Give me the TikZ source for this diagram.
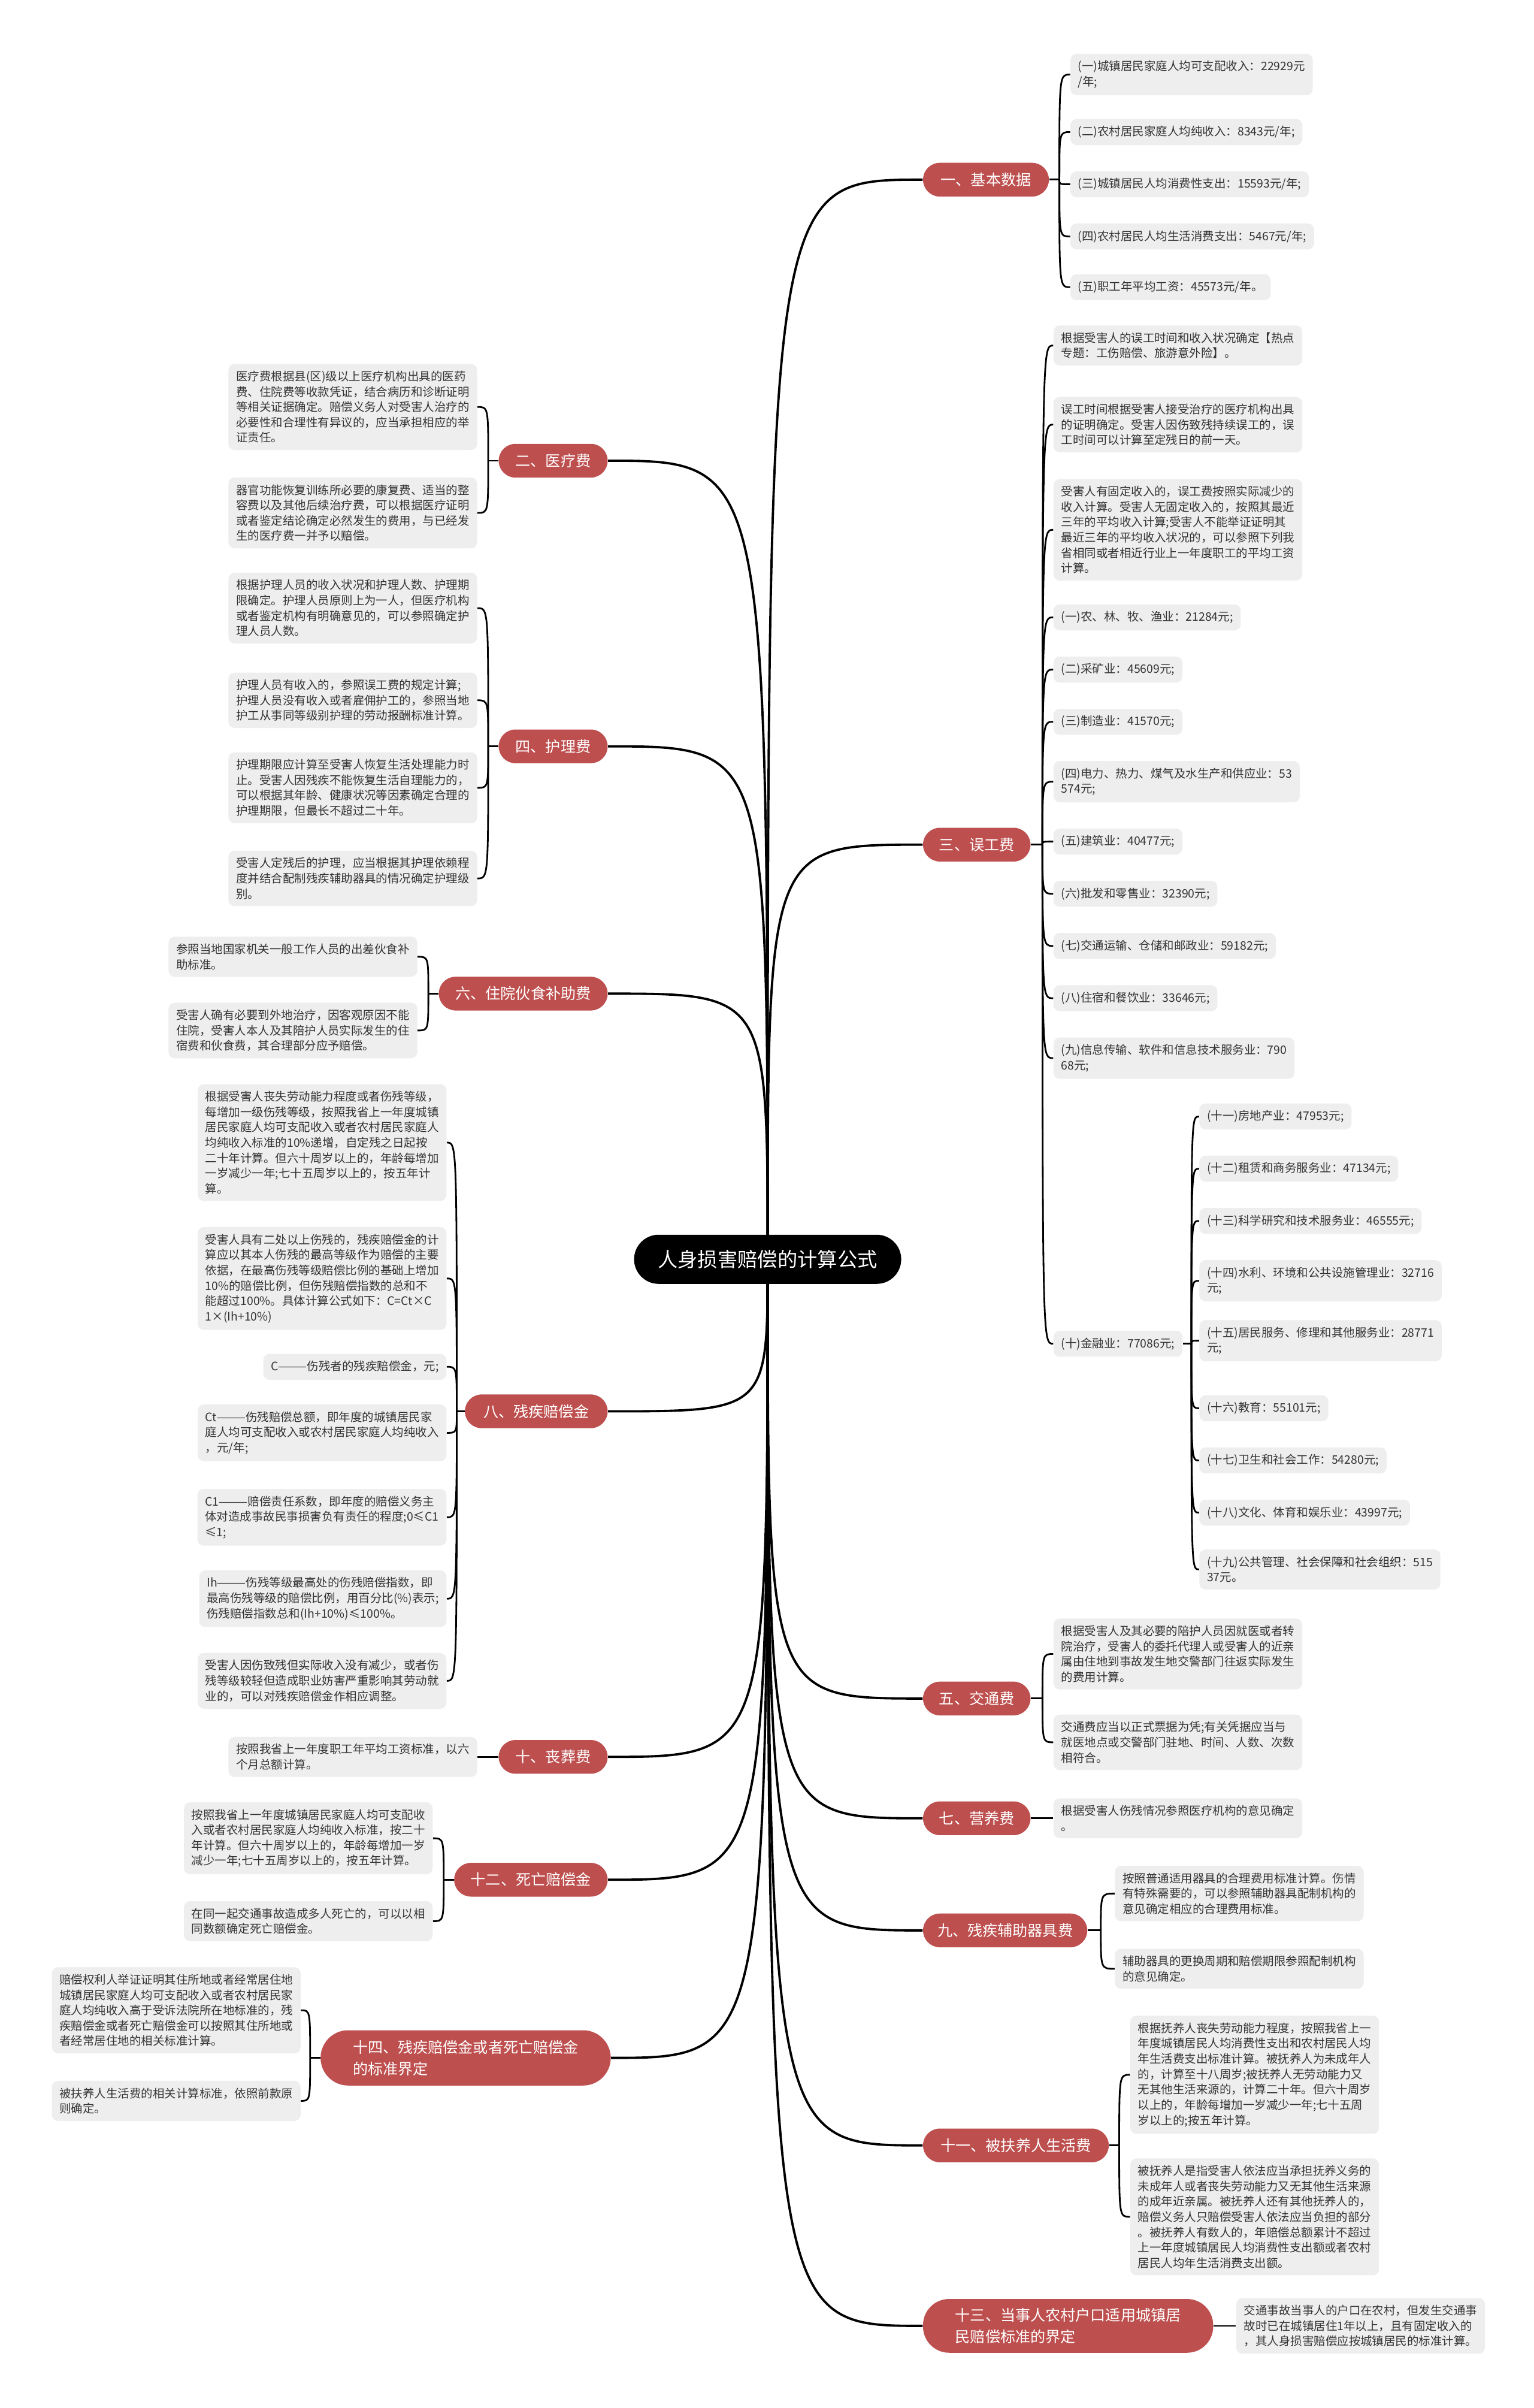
\documentclass[tikz,border=0pt]{standalone}
\usepackage{fontspec}
\setmainfont{Noto Sans CJK SC}
\usetikzlibrary{calc,backgrounds}
\definecolor{pillred}{RGB}{190,79,79}
\definecolor{boxgray}{RGB}{238,238,238}
\definecolor{txtgray}{RGB}{51,51,51}
\tikzset{
  box/.style={fill=boxgray, rounded corners=4pt, inner xsep=5pt, inner ysep=4.5pt, align=left, text=txtgray, font=\fontsize{7.6}{10}\selectfont},
  boxR/.style={box, anchor=west},
  boxL/.style={box, anchor=east},
  pill/.style={fill=pillred, text=white, rounded corners=11pt, minimum height=22pt, inner xsep=6pt, font=\fontsize{9.8}{14}\selectfont},
  pillR/.style={pill, anchor=west},
  pillL/.style={pill, anchor=east},
  link/.style={draw=black, line width=1.5pt},
  brk/.style={draw=black, line width=1.1pt},
}
\begin{document}
\begin{tikzpicture}[x=1pt,y=-1pt]
\useasboundingbox (0,0) rectangle (999,1568);
% root
\node[fill=black, text=white, rounded corners=16pt, minimum height=32pt, minimum width=174pt, font=\fontsize{13}{16}\selectfont] (root) at (500,820) {人身损害赔偿的计算公式};
% right branches
\node[pillR, minimum width=82pt] (b1) at (601,117) {一、基本数据};
\node[pillR, minimum width=70pt] (b3) at (601,550) {三、误工费};
\node[pillR, minimum width=70pt] (b5) at (601,1106) {五、交通费};
\node[pillR, minimum width=70pt] (b7) at (601,1184) {七、营养费};
\node[pillR, minimum width=107pt] (b9) at (601,1257) {九、残疾辅助器具费};
\node[pillR, minimum width=121pt] (b11) at (601,1397) {十一、被扶养人生活费};
\node[pillR, minimum width=189pt, minimum height=35pt, rounded corners=17pt, align=left, inner xsep=18pt] (b13) at (601,1514.5) {十三、当事人农村户口适用城镇居\\民赔偿标准的界定};
% left branches
\node[pillL, minimum width=71pt] (b2) at (396,300) {二、医疗费};
\node[pillL, minimum width=71pt] (b4) at (396,486) {四、护理费};
\node[pillL, minimum width=110pt] (b6) at (396,647) {六、住院伙食补助费};
\node[pillL, minimum width=93pt] (b8) at (396,919) {八、残疾赔偿金};
\node[pillL, minimum width=71pt] (b10) at (396,1144) {十、丧葬费};
\node[pillL, minimum width=100pt] (b12) at (396,1224) {十二、死亡赔偿金};
\node[pillL, minimum width=189pt, minimum height=36pt, rounded corners=18pt, align=left, inner xsep=18pt] (b14) at (398,1340) {十四、残疾赔偿金或者死亡赔偿金\\的标准界定};

% 一 children
\node[boxR] (c1a) at (697,48.5) {(一)城镇居民家庭人均可支配收入：22929元\\/年;};
\node[boxR] (c1b) at (697,86) {(二)农村居民家庭人均纯收入：8343元/年;};
\node[boxR] (c1c) at (697,120) {(三)城镇居民人均消费性支出：15593元/年;};
\node[boxR] (c1d) at (697,154) {(四)农村居民人均生活消费支出：5467元/年;};
\node[boxR] (c1e) at (697,187) {(五)职工年平均工资：45573元/年。};
% 三 children
\node[boxR] (c3a) at (686,225) {根据受害人的误工时间和收入状况确定【热点\\专题：工伤赔偿、旅游意外险】。};
\node[boxR] (c3b) at (686,276.5) {误工时间根据受害人接受治疗的医疗机构出具\\的证明确定。受害人因伤致残持续误工的，误\\工时间可以计算至定残日的前一天。};
\node[boxR] (c3c) at (686,345) {受害人有固定收入的，误工费按照实际减少的\\收入计算。受害人无固定收入的，按照其最近\\三年的平均收入计算;受害人不能举证证明其\\最近三年的平均收入状况的，可以参照下列我\\省相同或者相近行业上一年度职工的平均工资\\计算。};
\node[boxR] (c3d) at (686,402) {(一)农、林、牧、渔业：21284元;};
\node[boxR] (c3e) at (686,436) {(二)采矿业：45609元;};
\node[boxR] (c3f) at (686,470) {(三)制造业：41570元;};
\node[boxR] (c3g) at (686,509) {(四)电力、热力、煤气及水生产和供应业：53\\574元;};
\node[boxR] (c3h) at (686,548) {(五)建筑业：40477元;};
\node[boxR] (c3i) at (686,582) {(六)批发和零售业：32390元;};
\node[boxR] (c3j) at (686,616) {(七)交通运输、仓储和邮政业：59182元;};
\node[boxR] (c3k) at (686,650) {(八)住宿和餐饮业：33646元;};
\node[boxR] (c3l) at (686,689) {(九)信息传输、软件和信息技术服务业：790\\68元;};
\node[boxR] (f10) at (686,875) {(十)金融业：77086元;};
% 金融业 children
\node[boxR] (f11) at (781,727) {(十一)房地产业：47953元;};
\node[boxR] (f12) at (781,761) {(十二)租赁和商务服务业：47134元;};
\node[boxR] (f13) at (781,795) {(十三)科学研究和技术服务业：46555元;};
\node[boxR] (f14) at (781,834) {(十四)水利、环境和公共设施管理业：32716\\元;};
\node[boxR] (f15) at (781,873) {(十五)居民服务、修理和其他服务业：28771\\元;};
\node[boxR] (f16) at (781,917) {(十六)教育：55101元;};
\node[boxR] (f17) at (781,951) {(十七)卫生和社会工作：54280元;};
\node[boxR] (f18) at (781,985) {(十八)文化、体育和娱乐业：43997元;};
\node[boxR] (f19) at (781,1022) {(十九)公共管理、社会保障和社会组织：515\\37元。};
% 五 children
\node[boxR] (c5a) at (686,1077) {根据受害人及其必要的陪护人员因就医或者转\\院治疗，受害人的委托代理人或受害人的近亲\\属由住地到事故发生地交警部门往返实际发生\\的费用计算。};
\node[boxR] (c5b) at (686,1134.5) {交通费应当以正式票据为凭;有关凭据应当与\\就医地点或交警部门驻地、时间、人数、次数\\相符合。};
% 七 child
\node[boxR] (c7) at (686,1184) {根据受害人伤残情况参照医疗机构的意见确定\\。};
% 九 children
\node[boxR] (c9a) at (726,1233) {按照普通适用器具的合理费用标准计算。伤情\\有特殊需要的，可以参照辅助器具配制机构的\\意见确定相应的合理费用标准。};
\node[boxR] (c9b) at (726,1282) {辅助器具的更换周期和赔偿期限参照配制机构\\的意见确定。};
% 十一 children
\node[boxR] (c11a) at (736,1351) {根据抚养人丧失劳动能力程度，按照我省上一\\年度城镇居民人均消费性支出和农村居民人均\\年生活费支出标准计算。被抚养人为未成年人\\的，计算至十八周岁;被抚养人无劳动能力又\\无其他生活来源的，计算二十年。但六十周岁\\以上的，年龄每增加一岁减少一年;七十五周\\岁以上的;按五年计算。};
\node[boxR] (c11b) at (736,1443.5) {被抚养人是指受害人依法应当承担抚养义务的\\未成年人或者丧失劳动能力又无其他生活来源\\的成年近亲属。被抚养人还有其他抚养人的，\\赔偿义务人只赔偿受害人依法应当负担的部分\\。被抚养人有数人的，年赔偿总额累计不超过\\上一年度城镇居民人均消费性支出额或者农村\\居民人均年生活消费支出额。};
% 十三 child
\node[boxR] (c13) at (805,1514.5) {交通事故当事人的户口在农村，但发生交通事\\故时已在城镇居住1年以上，且有固定收入的\\，其人身损害赔偿应按城镇居民的标准计算。};

% 二 children
\node[boxL] (c2a) at (311,265) {医疗费根据县(区)级以上医疗机构出具的医药\\费、住院费等收款凭证，结合病历和诊断证明\\等相关证据确定。赔偿义务人对受害人治疗的\\必要性和合理性有异议的，应当承担相应的举\\证责任。};
\node[boxL] (c2b) at (311,334) {器官功能恢复训练所必要的康复费、适当的整\\容费以及其他后续治疗费，可以根据医疗证明\\或者鉴定结论确定必然发生的费用，与已经发\\生的医疗费一并予以赔偿。};
% 四 children
\node[boxL] (c4a) at (311,396) {根据护理人员的收入状况和护理人数、护理期\\限确定。护理人员原则上为一人，但医疗机构\\或者鉴定机构有明确意见的，可以参照确定护\\理人员人数。};
\node[boxL] (c4b) at (311,456) {护理人员有收入的，参照误工费的规定计算;\\护理人员没有收入或者雇佣护工的，参照当地\\护工从事同等级别护理的劳动报酬标准计算。};
\node[boxL] (c4c) at (311,513) {护理期限应计算至受害人恢复生活处理能力时\\止。受害人因残疾不能恢复生活自理能力的，\\可以根据其年龄、健康状况等因素确定合理的\\护理期限，但最长不超过二十年。};
\node[boxL] (c4d) at (311,572) {受害人定残后的护理，应当根据其护理依赖程\\度并结合配制残疾辅助器具的情况确定护理级\\别。};
% 六 children
\node[boxL] (c6a) at (272,623) {参照当地国家机关一般工作人员的出差伙食补\\助标准。};
\node[boxL] (c6b) at (272,671) {受害人确有必要到外地治疗，因客观原因不能\\住院，受害人本人及其陪护人员实际发生的住\\宿费和伙食费，其合理部分应予赔偿。};
% 八 children
\node[boxL] (c8a) at (291,744) {根据受害人丧失劳动能力程度或者伤残等级，\\每增加一级伤残等级，按照我省上一年度城镇\\居民家庭人均可支配收入或者农村居民家庭人\\均纯收入标准的10\%递增，自定残之日起按\\二十年计算。但六十周岁以上的，年龄每增加\\一岁减少一年;七十五周岁以上的，按五年计\\算。};
\node[boxL] (c8b) at (291,832.5) {受害人具有二处以上伤残的，残疾赔偿金的计\\算应以其本人伤残的最高等级作为赔偿的主要\\依据，在最高伤残等级赔偿比例的基础上增加\\10\%的赔偿比例，但伤残赔偿指数的总和不\\能超过100\%。具体计算公式如下：C=Ct×C\\1×(Ih+10\%)};
\node[boxL] (c8c) at (291,890) {C———伤残者的残疾赔偿金，元;};
\node[boxL] (c8d) at (291,933) {Ct———伤残赔偿总额，即年度的城镇居民家\\庭人均可支配收入或农村居民家庭人均纯收入\\，元/年;};
\node[boxL] (c8e) at (291,988) {C1———赔偿责任系数，即年度的赔偿义务主\\体对造成事故民事损害负有责任的程度;0≤C1\\≤1;};
\node[boxL] (c8f) at (291,1041) {Ih———伤残等级最高处的伤残赔偿指数，即\\最高伤残等级的赔偿比例，用百分比(\%)表示;\\伤残赔偿指数总和(Ih+10\%)≤100\%。};
\node[boxL] (c8g) at (291,1094.5) {受害人因伤致残但实际收入没有减少，或者伤\\残等级较轻但造成职业妨害严重影响其劳动就\\业的，可以对残疾赔偿金作相应调整。};
% 十 child
\node[boxL] (c10) at (311,1144) {按照我省上一年度职工年平均工资标准，以六\\个月总额计算。};
% 十二 children
\node[boxL] (c12a) at (282,1197) {按照我省上一年度城镇居民家庭人均可支配收\\入或者农村居民家庭人均纯收入标准，按二十\\年计算。但六十周岁以上的，年龄每增加一岁\\减少一年;七十五周岁以上的，按五年计算。};
\node[boxL] (c12b) at (282,1251) {在同一起交通事故造成多人死亡的，可以以相\\同数额确定死亡赔偿金。};
% 十四 children
\node[boxL] (c14a) at (196,1309) {赔偿权利人举证证明其住所地或者经常居住地\\城镇居民家庭人均可支配收入或者农村居民家\\庭人均纯收入高于受诉法院所在地标准的，残\\疾赔偿金或者死亡赔偿金可以按照其住所地或\\者经常居住地的相关标准计算。};
\node[boxL] (c14b) at (196,1368) {被扶养人生活费的相关计算标准，依照前款原\\则确定。};

% junctions
\coordinate (j1) at (690,117);
\coordinate (j3) at (679,550);
\coordinate (j5) at (679,1106);
\coordinate (j9) at (717,1257);
\coordinate (j11) at (729,1397);
\coordinate (j10f) at (776,875);
\coordinate (j2) at (318,300);
\coordinate (j4) at (318,486);
\coordinate (j6) at (279,647);
\coordinate (j8) at (297.5,919);
\coordinate (j12) at (289,1224);
\coordinate (j14) at (202,1340);

\begin{scope}[on background layer]
\fill[white] (0,0) rectangle (999,1568);
% main links
\foreach \b in {b1,b3,b5,b7,b9,b11,b13}
  \draw[link] (root.center) .. controls (root.center |- \b.west) .. (\b.west);
\foreach \b in {b2,b4,b6,b8,b10,b12,b14}
  \draw[link] (root.center) .. controls (root.center |- \b.east) .. (\b.east);
% right brackets
\draw[brk] (b1.east) -- (j1);
\foreach \c in {c1a,c1b,c1c,c1d,c1e}
  \draw[brk] (j1) .. controls (j1 |- \c.west) and (j1 |- \c.west) .. (\c.west);
\draw[brk] (b3.east) -- (j3);
\foreach \c in {c3a,c3b,c3c,c3d,c3e,c3f,c3g,c3h,c3i,c3j,c3k,c3l,f10}
  \draw[brk] (j3) .. controls (j3 |- \c.west) and (j3 |- \c.west) .. (\c.west);
\draw[brk] (f10.east) -- (j10f);
\foreach \c in {f11,f12,f13,f14,f15,f16,f17,f18,f19}
  \draw[brk] (j10f) .. controls (j10f |- \c.west) and (j10f |- \c.west) .. (\c.west);
\draw[brk] (b5.east) -- (j5);
\foreach \c in {c5a,c5b}
  \draw[brk] (j5) .. controls (j5 |- \c.west) and (j5 |- \c.west) .. (\c.west);
\draw[brk] (b7.east) -- (c7.west);
\draw[brk] (b9.east) -- (j9);
\foreach \c in {c9a,c9b}
  \draw[brk] (j9) .. controls (j9 |- \c.west) and (j9 |- \c.west) .. (\c.west);
\draw[brk] (b11.east) -- (j11);
\foreach \c in {c11a,c11b}
  \draw[brk] (j11) .. controls (j11 |- \c.west) and (j11 |- \c.west) .. (\c.west);
\draw[brk] (b13.east) -- (c13.west);
% left brackets
\draw[brk] (b2.west) -- (j2);
\foreach \c in {c2a,c2b}
  \draw[brk] (j2) .. controls (j2 |- \c.east) and (j2 |- \c.east) .. (\c.east);
\draw[brk] (b4.west) -- (j4);
\foreach \c in {c4a,c4b,c4c,c4d}
  \draw[brk] (j4) .. controls (j4 |- \c.east) and (j4 |- \c.east) .. (\c.east);
\draw[brk] (b6.west) -- (j6);
\foreach \c in {c6a,c6b}
  \draw[brk] (j6) .. controls (j6 |- \c.east) and (j6 |- \c.east) .. (\c.east);
\draw[brk] (b8.west) -- (j8);
\foreach \c in {c8a,c8b,c8c,c8d,c8e,c8f,c8g}
  \draw[brk] (j8) .. controls (j8 |- \c.east) and (j8 |- \c.east) .. (\c.east);
\draw[brk] (b10.west) -- (c10.east);
\draw[brk] (b12.west) -- (j12);
\foreach \c in {c12a,c12b}
  \draw[brk] (j12) .. controls (j12 |- \c.east) and (j12 |- \c.east) .. (\c.east);
\draw[brk] (b14.west) -- (j14);
\foreach \c in {c14a,c14b}
  \draw[brk] (j14) .. controls (j14 |- \c.east) and (j14 |- \c.east) .. (\c.east);
\end{scope}
\end{tikzpicture}
\end{document}
